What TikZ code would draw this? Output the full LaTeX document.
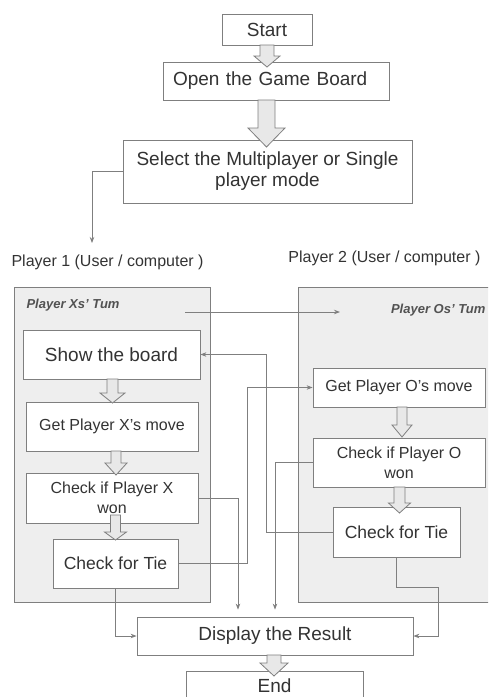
\documentclass[tikz,border=0pt]{standalone}
\usepackage{fontspec}
\setmainfont{Liberation Sans}
\usetikzlibrary{positioning, arrows.meta, calc}
\definecolor{ink}{HTML}{333333}
\definecolor{edge}{HTML}{7F7F7F}
\definecolor{panel}{HTML}{EEEEEE}
\definecolor{shade}{HTML}{E8E8E8}

\begin{document}
\begin{tikzpicture}[x=1pt, y=-1pt, text=ink,
  stepbox/.style={draw=edge, fill=white, line width=0.8pt, align=center, inner sep=2pt},
  turnpanel/.style={draw=edge, fill=panel, line width=0.8pt, minimum height=315pt, inner sep=0pt},
  big/.style={font=\fontsize{19}{21}\selectfont},
  small/.style={font=\fontsize{16}{20}\selectfont},
  tie/.style={font=\fontsize{17.5}{20}\selectfont},
  turnlabel/.style={font=\fontsize{13}{15}\selectfont\bfseries\itshape, text=ink!85},
  conn/.style={draw=edge, line width=0.8pt, -{Stealth[length=6pt,width=4.5pt]}},
  blockarrow/.style={draw=edge, fill=shade, line width=0.8pt}]
  \useasboundingbox (0,0) rectangle (488,697);
  \clip (0,0) rectangle (488,697);

  % Main flow
  \node[stepbox, big, minimum width=90pt, minimum height=31pt] (start) at (267,29.5) {Start};
  \node[stepbox, big, minimum width=226pt, minimum height=38pt, text width=206pt, align=left] (open) at (276,81) {Open the Game Board};
  \node[stepbox, big, minimum width=289pt, minimum height=63pt] (select) at (267.5,171.5) {Select the Multiplayer or Single\\player mode};

  \node[small, anchor=west] (p1) at (8,262) {Player 1 (User / computer )};
  \node[small, anchor=east] (p2) at (484,258) {Player 2 (User / computer )};

  % Turn panels
  \node[turnpanel, minimum width=196pt] (xpanel) at (112,444.5) {};
  \node[turnpanel, minimum width=197pt] (opanel) at (396.5,444.5) {};
  \node[turnlabel, anchor=west] (xturn) at (23,305) {Player Xs' Tum};
  \node[turnlabel, anchor=east] (oturn) at (489,310) {Player Os' Tum};

  % Player X
  \node[stepbox, big, minimum width=177pt, minimum height=49pt] (show) at (111.5,354.5) {Show the board};
  \node[stepbox, small, minimum width=172pt, minimum height=49pt] (getx) at (112,426.5) {Get Player X's move};
  \node[stepbox, small, minimum width=172pt, minimum height=50pt] (checkx) at (112,498) {Check if Player X\\won};
  \node[stepbox, tie, minimum width=125pt, minimum height=49pt] (tiex) at (115.5,563.5) {Check for Tie};

  % Player O
  \node[stepbox, small, minimum width=172pt, minimum height=39pt] (geto) at (399,387.5) {Get Player O's move};
  \node[stepbox, small, minimum width=172pt, minimum height=49pt] (checko) at (399,462.5) {Check if Player O\\won};
  \node[stepbox, tie, minimum width=127pt, minimum height=50pt] (tieo) at (396.5,532) {Check for Tie};

  % Result
  \node[stepbox, big, minimum width=276pt, minimum height=38pt] (display) at (275,636) {Display the Result};
  \node[stepbox, big, minimum width=177pt, minimum height=29pt] (end) at (274.5,685.5) {End};

  % Connectors
  \coordinate (p1top) at (92,243);
  \draw[conn] (select.west) -| (p1top);
  \coordinate (xout) at (185,312);
  \coordinate (oin) at (340,312);
  \draw[conn] (xout) -- (oin);
  \draw[conn, shorten >=7pt] (checkx.east) -| ([xshift=-37pt]display.north);
  \draw[conn] (tiex.east) -- ++(69,0) |- (geto.west);
  \draw[conn] (tieo.west) -- ++(-66,0) |- (show.east);
  \draw[conn, shorten >=7pt] (checko.west) -| (display.north);
  \draw[conn] (tiex.south) |- (display.west);
  \draw[conn] (tieo.south) -- ++(0,30) -- ++(41.5,0) |- (display.east);

  % Block arrows: x / top / head start / tip / shaft / head
  \foreach \x/\t/\hs/\tip/\s/\h in {267/45/56/67/7/13, 266.5/100/128/147/8.5/18.5,
      112.5/379/393/403/5.5/12.5, 116/451/463/475/5/11, 115.5/515/532/540/5/11,
      402/407/425/437/5/10, 399.5/487/503/513/5.5/11, 274/655/663/676/7/14} {
    \draw[blockarrow] (\x-\s,\t) -- (\x+\s,\t) -- (\x+\s,\hs) -- (\x+\h,\hs)
      -- (\x,\tip) -- (\x-\h,\hs) -- (\x-\s,\hs) -- cycle;
  }
\end{tikzpicture}
\end{document}
